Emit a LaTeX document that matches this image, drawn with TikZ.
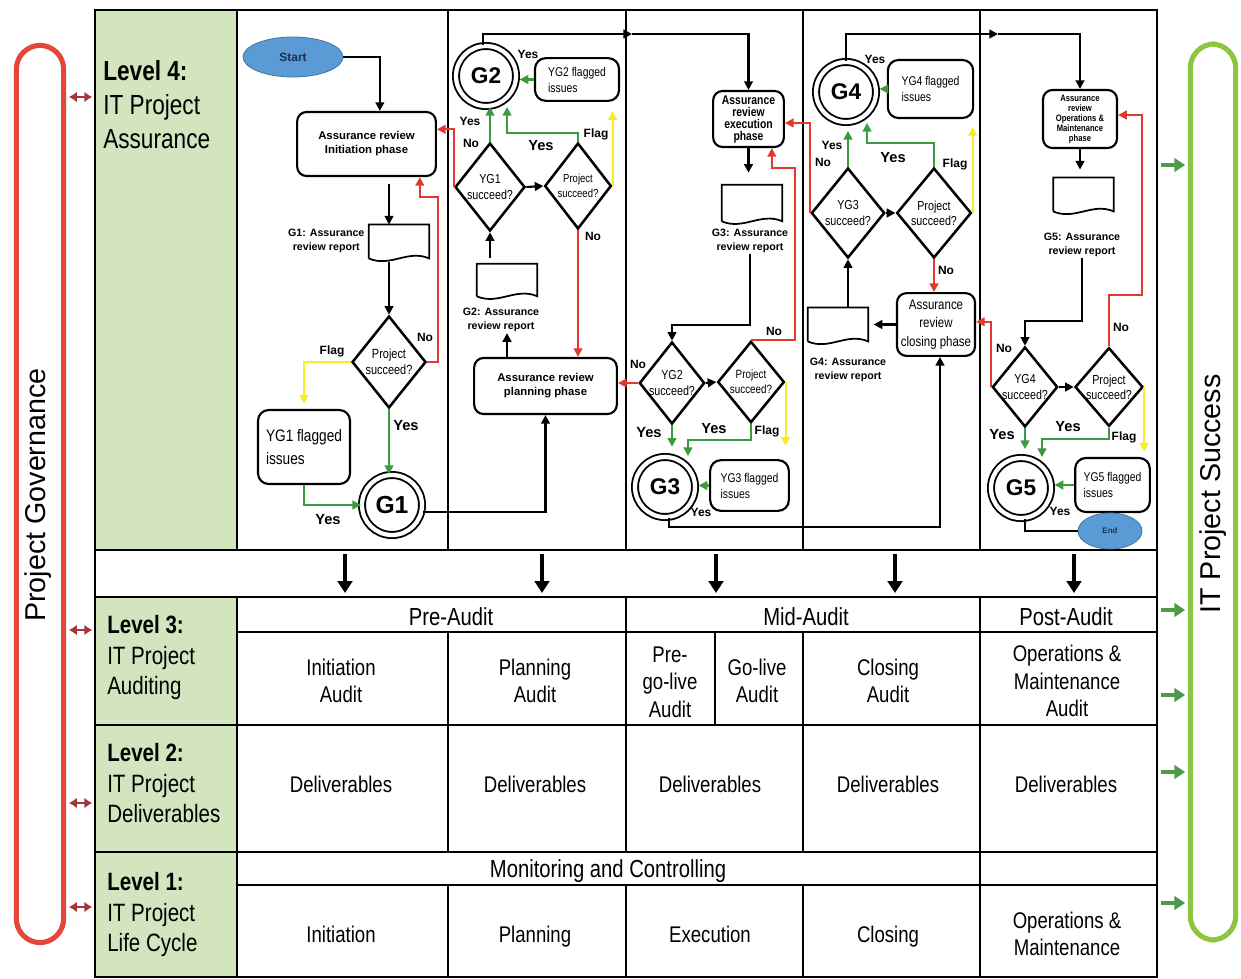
\documentclass[tikz,border=0pt]{standalone}
\usepackage{fontspec}
\setmainfont{Liberation Sans}
\newfontfamily\narrowfont[FakeStretch=0.82]{Liberation Sans}
\usetikzlibrary{shapes.geometric,arrows.meta}

% outline of a report (document) symbol, drawn round an empty node
\newcommand{\docoutline}[1]{%
  \draw[line width=1.3pt] ([yshift=3pt]#1.south west) -- (#1.north west) -- (#1.north east) -- ([yshift=3pt]#1.south east)
    .. controls +(-16pt,7pt) and +(16pt,-7pt) .. ([yshift=3pt]#1.south west);}

\begin{document}
\begin{tikzpicture}[x=0.75pt, y=-0.75pt,
    conn/.style={line width=1.6pt},
    flow/.style={conn, -{Triangle[length=6.5pt,width=6.5pt]}},
    noflow/.style={flow, draw=noRed},
    yesflow/.style={flow, draw=yesGreen},
    flagflow/.style={flow, draw=flagYellow},
    phase/.style={draw, line width=1.6pt, rounded corners=7pt, align=center, inner sep=1pt, font=\bfseries\fontsize{8.5}{10.5}\selectfont},
    decision/.style={draw, diamond, line width=1.9pt, inner sep=-6pt, align=center, font=\narrowfont\fontsize{9.8}{11.5}\selectfont},
    gate/.style={draw, circle, double, line width=1.4pt, double distance=3.2pt, minimum size=45pt, inner sep=0pt, font=\bfseries\fontsize{17}{17}\selectfont},
    flagged/.style={draw, line width=1.6pt, rounded corners=8pt, align=left, font=\narrowfont\fontsize{9.5}{12}\selectfont},
    terminal/.style={ellipse, draw=startBlue!75!black, fill=startBlue, line width=0.6pt, inner sep=0pt, font=\bfseries\fontsize{9}{9}\selectfont, text=navyText},
    docbox/.style={minimum width=45pt, minimum height=28pt, inner sep=0pt},
    doclabel/.style={align=center, inner sep=1pt, font=\bfseries\fontsize{8}{10}\selectfont},
    tag/.style={inner sep=1pt, font=\bfseries\fontsize{9}{10}\selectfont},
    bigtag/.style={inner sep=1pt, font=\bfseries\fontsize{11}{12}\selectfont},
    cell/.style={align=center, font=\narrowfont\fontsize{17}{20.5}\selectfont},
    head/.style={font=\narrowfont\fontsize{18.5}{20}\selectfont},
    levelname/.style={anchor=north west, align=left, inner sep=0pt, font=\narrowfont\fontsize{18.8}{23}\selectfont},
    rowline/.style={line width=2.2pt},
    colline/.style={line width=1.3pt},
    govlink/.style={line width=2pt, draw=linkRed, {Latex[length=6pt,width=8pt]}-{Latex[length=6pt,width=8pt]}},
    successlink/.style={line width=3.5pt, draw=linkGreen, -{Triangle[length=8pt,width=10pt]}},
    bandarrow/.style={line width=3pt, -{Triangle[length=9pt,width=11pt]}}
  ]
    \definecolor{govRed}{HTML}{E5463A}
    \definecolor{successGreen}{HTML}{8CC63F}
    \definecolor{levelGreen}{HTML}{D2E5BE}
    \definecolor{startBlue}{HTML}{5B9BD5}
    \definecolor{navyText}{HTML}{1F3050}
    \definecolor{noRed}{HTML}{E2382E}
    \definecolor{yesGreen}{HTML}{3A9A40}
    \definecolor{flagYellow}{HTML}{F7EC1E}
    \definecolor{linkRed}{HTML}{A3363A}
    \definecolor{linkGreen}{HTML}{4F9A48}

    \useasboundingbox (0,0) rectangle (1241,978);

    % Level label cells
    \fill[levelGreen] (95,10) rectangle (237,550);
    \fill[levelGreen] (95,597) rectangle (237,977);

    % Level 4 frame and swim lanes
    \draw[rowline] (95,10) rectangle (1157,550);
    \foreach \x in {237,448,626,803,980}
        \draw[colline] (\x,10) -- (\x,550);

    % Band with arrows down to the audits
    \draw[rowline] (95,550) rectangle (1157,597);
    \foreach \x in {345,542,716,895,1074}
        \draw[bandarrow] (\x,554) -- (\x,593);

    % Levels 3 to 1
    \draw[rowline] (95,597) rectangle (1157,977);
    \draw[rowline] (95,725) -- (1157,725);
    \draw[rowline] (95,852) -- (1157,852);
    \draw[colline] (237,597) -- (237,977);
    \draw[colline] (237,632) -- (1157,632);
    \draw[colline] (626,597) -- (626,725);
    \draw[colline] (980,597) -- (980,725);
    \foreach \x in {448,715,803}
        \draw[colline] (\x,632) -- (\x,725);
    \foreach \x in {448,626,803,980}
        \draw[colline] (\x,725) -- (\x,852);
    \draw[colline] (237,885) -- (1157,885);
    \draw[colline] (980,852) -- (980,977);
    \foreach \x in {448,626,803}
        \draw[colline] (\x,885) -- (\x,977);

    % Level names
    \node[levelname, font=\narrowfont\fontsize{20.7}{25.5}\selectfont] (lvl4) at (103,60) {\textbf{Level 4:}\\IT Project\\Assurance};
    \node[levelname] (lvl3) at (107,615) {\textbf{Level 3:}\\IT Project\\Auditing};
    \node[levelname] (lvl2) at (107,743) {\textbf{Level 2:}\\IT Project\\Deliverables};
    \node[levelname] (lvl1) at (107,872) {\textbf{Level 1:}\\IT Project\\Life Cycle};

    % Level 3 cells
    \node[head] (preaudit) at (451,620) {Pre-Audit\strut};
    \node[head] (midaudit) at (806,620) {Mid-Audit\strut};
    \node[head] (postaudit) at (1066,620) {Post-Audit\strut};
    \node[cell] (initaudit) at (341,681) {Initiation\\Audit};
    \node[cell] (planaudit) at (535,681) {Planning\\Audit};
    \node[cell] (pregoaudit) at (670,682) {Pre-\\go-live\\Audit};
    \node[cell] (goaudit) at (757,681) {Go-live\\Audit};
    \node[cell] (closeaudit) at (888,681) {Closing\\Audit};
    \node[cell] (omaudit) at (1067,681) {Operations \&\\Maintenance\\Audit};

    % Level 2 cells
    \foreach \x [count=\i] in {341,535,710,888,1066}
        \node[cell] (deliv\i) at (\x,787) {Deliverables\strut};

    % Level 1 cells
    \node[head] (monitor) at (608,872) {Monitoring and Controlling\strut};
    \node[cell] (lcinit) at (341,937) {Initiation\strut};
    \node[cell] (lcplan) at (535,937) {Planning\strut};
    \node[cell] (lcexec) at (710,937) {Execution\strut};
    \node[cell] (lcclose) at (888,937) {Closing\strut};
    \node[cell] (lcom) at (1067,934) {Operations \&\\Maintenance};

    % Side bars
    \node[draw=govRed, line width=3.8pt, rounded corners=18pt, minimum width=35.5pt, minimum height=673pt] (gov) at (40,494) {};
    \node[rotate=90, font=\fontsize{21.5}{24}\selectfont] (govtext) at (38,495) {Project Governance};
    \node[draw=successGreen, line width=3.8pt, rounded corners=18pt, minimum width=34pt, minimum height=672pt] (success) at (1213,492) {};
    \node[rotate=90, font=\fontsize{21.5}{24}\selectfont] (successtext) at (1213,494) {IT Project Success};

    \coordinate (frameL) at (95,0);
    \coordinate (frameR) at (1157,0);
    \foreach \y in {97,630,803,907}
        \draw[govlink, shorten <=2pt, shorten >=2pt] (gov.east |- 0,\y) -- (frameL |- 0,\y);
    \foreach \y in {165,610,695,772,903}
        \draw[successlink, shorten <=3pt, shorten >=2pt] (frameR |- 0,\y) -- (success.west |- 0,\y);

    % Lane 1: initiation
    \node[terminal, minimum width=75pt, minimum height=30pt] (start) at (293,57) {Start};
    \node[phase, minimum width=104pt, minimum height=48pt] (init) at (366.5,144) {Assurance review\\Initiation phase};
    \node[docbox] (doc1) at (399,243.5) {};
    \docoutline{doc1}
    \node[doclabel, anchor=east] (doc1lbl) at (366,241) {G1: Assurance\\review report};
    \node[decision, minimum width=55.5pt, minimum height=69pt, font=\narrowfont\fontsize{10}{12}\selectfont] (dec1) at (389,362) {Project\\succeed?};
    \node[flagged, minimum width=69pt, minimum height=55.5pt, font=\narrowfont\fontsize{12.5}{17}\selectfont] (yg1) at (304,447) {YG1 flagged\\issues};
    \node[gate, font=\bfseries\fontsize{18.5}{18.5}\selectfont] (g1) at (392,505) {G1};

    % Lane 2: planning
    \node[gate] (g2) at (486,76) {G2};
    \node[flagged, minimum width=63pt, minimum height=32pt] (yg2) at (577,79.5) {YG2 flagged\\issues};
    \node[decision, minimum width=52.5pt, minimum height=66pt] (dyg1) at (490,187) {YG1\\succeed?};
    \node[decision, minimum width=50pt, minimum height=64.5pt, font=\narrowfont\fontsize{8.7}{11}\selectfont] (dp2) at (578,186) {Project\\succeed?};
    \node[docbox, minimum height=27pt] (doc2) at (507,282) {};
    \docoutline{doc2}
    \node[doclabel] (doc2lbl) at (501,320) {G2: Assurance\\review report};
    \node[phase, minimum width=107pt, minimum height=42pt] (plan) at (545.5,386) {Assurance review\\planning phase};

    % Lane 3: execution
    \node[phase, minimum width=53pt, minimum height=42pt, font=\bfseries\narrowfont\fontsize{9.5}{9}\selectfont] (exec) at (748.5,119) {Assurance\\review\\execution\\phase};
    \node[docbox, minimum height=30pt] (doc3) at (752,205) {};
    \docoutline{doc3}
    \node[doclabel] (doc3lbl) at (750,241) {G3: Assurance\\review report};
    \node[decision, minimum width=49pt, minimum height=61.5pt] (dyg2) at (672,383) {YG2\\succeed?};
    \node[decision, minimum width=50pt, minimum height=61pt, font=\narrowfont\fontsize{9}{11}\selectfont] (dp3) at (751,382) {Project\\succeed?};
    \node[gate] (g3) at (665,487) {G3};
    \node[flagged, minimum width=59pt, minimum height=38pt] (yg3) at (749.5,485.5) {YG3 flagged\\issues};

    % Lane 4: closing
    \node[gate] (g4) at (846,92) {G4};
    \node[flagged, minimum width=64pt, minimum height=43.5pt] (yg4) at (930.5,89) {YG4 flagged\\issues};
    \node[decision, minimum width=55pt, minimum height=67.5pt] (dyg3) at (848,213) {YG3\\succeed?};
    \node[decision, minimum width=56pt, minimum height=67.5pt] (dp4) at (934,213) {Project\\succeed?};
    \node[phase, minimum width=58.5pt, minimum height=47pt, font=\narrowfont\fontsize{10.5}{14}\selectfont] (close) at (936,324.5) {Assurance\\review\\closing phase};
    \node[docbox] (doc4) at (838,326.5) {};
    \docoutline{doc4}
    \node[doclabel] (doc4lbl) at (848,370) {G4: Assurance\\review report};

    % Lane 5: operations and maintenance
    \node[phase, minimum width=55.5pt, minimum height=43.5pt, font=\bfseries\narrowfont\fontsize{7}{7.5}\selectfont] (om) at (1080,119) {Assurance\\review\\Operations \&\\Maintenance\\phase};
    \node[docbox] (doc5) at (1083.5,196.5) {};
    \docoutline{doc5}
    \node[doclabel] (doc5lbl) at (1082,245) {G5: Assurance\\review report};
    \node[decision, minimum width=49pt, minimum height=60pt] (dyg4) at (1025,387) {YG4\\succeed?};
    \node[decision, minimum width=51pt, minimum height=59pt] (dp5) at (1109,387) {Project\\succeed?};
    \node[gate] (g5) at (1021,488) {G5};
    \node[flagged, minimum width=56pt, minimum height=40.5pt] (yg5) at (1112.5,485) {YG5 flagged\\issues};
    \node[terminal, minimum width=48pt, minimum height=27pt, font=\bfseries\fontsize{6}{7}\selectfont] (end) at (1110,531) {End};

    % Connectors, lane 1
    \draw[flow] (start.east) -| ([xshift=10pt]init.north);
    \draw[flow, shorten <=5pt] (init.south -| dec1) -- (doc1.north -| dec1);
    \draw[flow] (doc1.south -| dec1) -- (dec1.north);
    \coordinate (no1) at (438,197);
    \draw[noflow] (dec1.east) -| (no1) -| ([xshift=40pt]init.south);
    \draw[flagflow, shorten >=4pt] (dec1.west) -| (yg1.north);
    \draw[yesflow] (dec1.south) -- (dec1.south |- g1.north);
    \draw[yesflow] (yg1.south) |- (g1.west);
    \draw[flow] ([yshift=-5pt]g1.east) -| (plan.south);

    % Connectors, lane 2
    \coordinate (top2) at (632,34);
    \draw[flow] ([xshift=-2pt]g2.north) |- (top2);
    \draw[flow] (top2) -| (exec.north);
    \draw[yesflow, shorten >=2pt] (yg2.west) -- (yg2.west -| g2.east);
    \draw[yesflow] (dyg1.north) -- (dyg1.north |- g2.south);
    \draw[noflow] (dyg1.west) |- ([yshift=11pt]init.east);
    \draw[flow] (dyg1.east) -- (dp2.west);
    \coordinate (yes2) at (507,133);
    \draw[yesflow] (dp2.north) |- (yes2) -- (yes2 |- g2.south);
    \draw[flagflow, shorten >=7pt] (dp2.east) -- (dp2.east |- yg2.south);
    \draw[noflow] (dp2.south) -- (dp2.south |- plan.north);
    \draw[flow, shorten <=4pt] (doc2.north -| dyg1) -- (dyg1.south);
    \draw[flow] (plan.north -| doc2) -- (doc2lbl.south -| doc2);

    % Connectors, lane 3
    \draw[flow, shorten >=9pt] (exec.south) -- (exec.south |- doc3.north);
    \coordinate (bend3) at (750,325);
    \draw[flow] (doc3lbl.south) -- (bend3) -| (dyg2.north);
    \draw[noflow] (dyg2.west) -- (dyg2.west -| plan.east);
    \draw[flow] (dyg2.east) -- (dp3.west);
    \coordinate (no3) at (795,168);
    \draw[noflow] (dp3.north) -| (no3) -| ([xshift=17.5pt]exec.south);
    \draw[flagflow, shorten >=10pt] (dp3.east) -- (dp3.east |- yg3.north);
    \draw[yesflow, shorten >=7pt] (dyg2.south) -- (dyg2.south |- g3.north);
    \coordinate (yes3) at (688,440);
    \draw[yesflow] (dp3.south) |- (yes3) -- (yes3 |- g3.north);
    \draw[yesflow, shorten >=2pt] (yg3.west) -- (yg3.west -| g3.east);
    \coordinate (back3) at (940,527);
    \draw[flow] ([xshift=3pt]g3.south) |- (back3) -- (back3 |- close.south);

    % Connectors, lane 4
    \coordinate (top4) at (998,34);
    \draw[flow] (g4.north) |- (top4);
    \draw[flow] (top4) -| (om.north);
    \draw[yesflow, shorten >=2pt] (yg4.west) -- (yg4.west -| g4.east);
    \draw[yesflow, shorten >=6pt] (dyg3.north) -- (dyg3.north |- g4.south);
    \draw[noflow] (dyg3.west) |- ([yshift=-3pt]exec.east);
    \draw[flow] (dyg3.east) -- (dp4.west);
    \coordinate (yes4) at (867,143);
    \draw[yesflow] (dp4.north) |- (yes4) -- (yes4 |- g4.south);
    \draw[flagflow, shorten >=6pt] (dp4.east) -- (dp4.east |- yg4.south);
    \draw[noflow] (dp4.south) -- (dp4.south |- close.north);
    \draw[flow, shorten >=4pt] (close.west) -- (close.west -| doc4.east);
    \draw[flow] (doc4.north -| dyg3.south) -- (dyg3.south);

    % Connectors, lane 5
    \draw[flow, shorten >=6pt] (om.south) -- (om.south |- doc5.north);
    \coordinate (bend5) at (1082,321);
    \draw[flow] (doc5lbl.south) -- (bend5) -| (dyg4.north);
    \draw[noflow] (dyg4.west) |- ([yshift=2pt]close.east);
    \draw[flow] (dyg4.east) -- (dp5.west);
    \coordinate (no5) at (1142,295);
    \draw[noflow] (dp5.north) |- (no5) |- ([yshift=3pt]om.east);
    \draw[flagflow, shorten >=4pt] (dp5.east) -- (dp5.east |- yg5.north);
    \draw[yesflow, shorten >=6pt] (dyg4.south) -- (dyg4.south |- g5.north);
    \coordinate (yes5) at (1042,439);
    \draw[yesflow] (dp5.south) |- (yes5) -- (yes5 |- g5.north);
    \draw[yesflow, shorten >=2pt] (yg5.west) -- (yg5.west -| g5.east);
    \draw[conn] ([xshift=3pt]g5.south) |- (end.west);

    % Yes / No / Flag tags
    \foreach \x/\y/\t [count=\i] in {425/337/No, 332/351/Flag,
            528/54/Yes, 470/121/Yes, 471/143/No, 596/134/Flag, 593/236/No,
            774/331/No, 638/364/No, 767/431/Flag, 701/512/Yes,
            875/59/Yes, 832/145/Yes, 823/162/No, 955/164/Flag, 946/270/No,
            1004/348/No, 1121/327/No, 1124/437/Flag, 1060/511/Yes}
        \node[tag] (tag\i) at (\x,\y) {\t};
    \foreach \x/\y [count=\i] in {406/426, 328/520, 541/146, 649/433, 714/429,
            893/158, 1002/435, 1068/427}
        \node[bigtag] (bigtag\i) at (\x,\y) {Yes};

\end{tikzpicture}
\end{document}
